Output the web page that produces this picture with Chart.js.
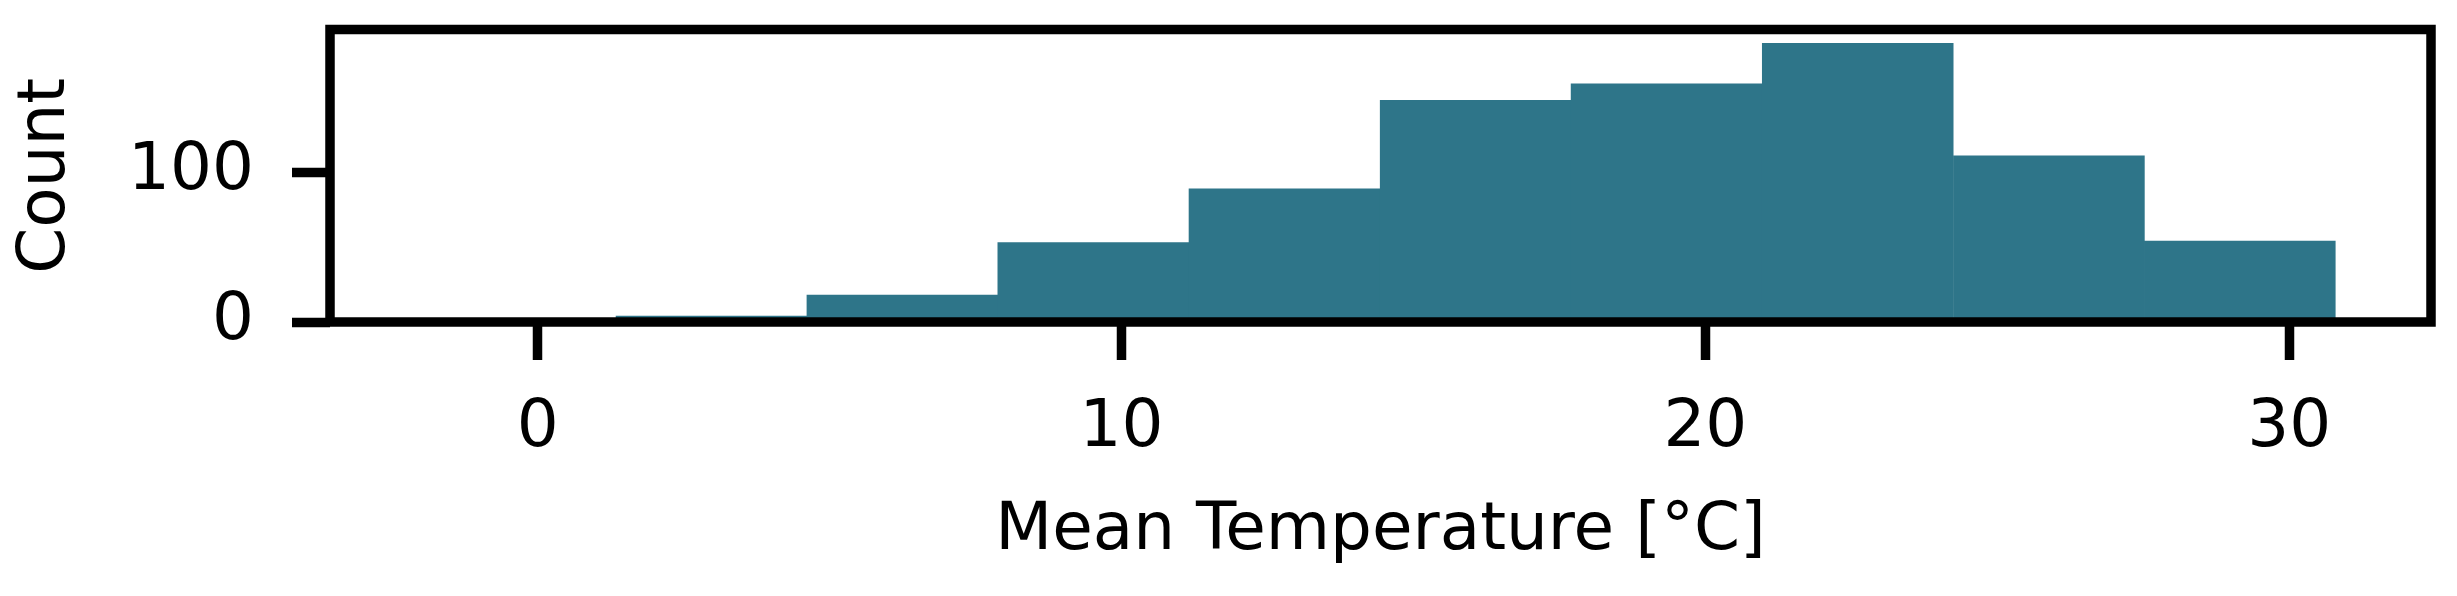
<!DOCTYPE html>
<html>
<head>
<meta charset="utf-8">
<script src="https://cdn.jsdelivr.net/npm/chart.js@4"></script>
<style>
  html, body { margin: 0; padding: 0; background: #ffffff; }
  #wrap { width: 2457px; height: 596px; }
</style>
</head>
<body>
<div id="wrap"><canvas id="c" width="2457" height="596"></canvas></div>
<script>
// ---- data ----
const binEdges = [-1.93, 1.34, 4.61, 7.88, 11.15, 14.43, 17.70, 20.97, 24.25, 27.52, 30.79];
const counts   = [1, 4, 18, 53, 89, 148, 159, 186, 111, 54];
const xTicks   = [0, 10, 20, 30];
const yTicks   = [0, 100];
const xRange   = [-3.56, 32.43];
const yRange   = [0, 195.3];
const xTitle   = 'Mean Temperature [°C]';
const yTitle   = 'Count';

// histogram bars, centred on each bin
const barData = counts.map((c, i) => ({ x: (binEdges[i] + binEdges[i + 1]) / 2, y: c }));

const FONT = 'DejaVu Sans';
const FS = 66;
const LW = 9.5;

const framePlugin = {
  id: 'frame',
  afterDatasetsDraw(chart) {
    const a = chart.chartArea, ctx = chart.ctx;
    ctx.save();
    ctx.strokeStyle = '#000';
    ctx.lineWidth = LW;
    ctx.lineJoin = 'miter';
    ctx.strokeRect(a.left, a.top, a.right - a.left, a.bottom - a.top);
    ctx.restore();
  }
};

function noPad(s) {
  s.paddingTop = 0; s.paddingBottom = 0; s.paddingLeft = 0; s.paddingRight = 0;
}

new Chart(document.getElementById('c'), {
  type: 'bar',
  data: {
    datasets: [{
      data: barData,
      backgroundColor: '#2e7589',
      borderWidth: 0,
      barPercentage: 1,
      categoryPercentage: 1
    }]
  },
  options: {
    responsive: false,
    animation: false,
    devicePixelRatio: 1,
    layout: { padding: { top: 29.5, right: 26, bottom: 0, left: 0 } },
    plugins: { legend: { display: false }, tooltip: { enabled: false } },
    scales: {
      x: {
        type: 'linear',
        offset: false,
        min: xRange[0],
        max: xRange[1],
        afterBuildTicks: s => { s.ticks = xTicks.map(v => ({ value: v })); },
        afterFit: s => { s.height = 274; noPad(s); },
        grid: { offset: false, drawOnChartArea: false, drawTicks: true, tickLength: 38, tickWidth: LW, tickColor: '#000' },
        border: { display: false },
        ticks: { color: '#000', font: { family: FONT, size: FS, lineHeight: 1 }, padding: 36, maxRotation: 0, autoSkip: false },
        title: { display: true, text: xTitle, color: '#000', font: { family: FONT, size: FS, lineHeight: 1 }, padding: { top: 0, bottom: 31 } }
      },
      y: {
        type: 'linear',
        min: yRange[0],
        max: yRange[1],
        afterBuildTicks: s => { s.ticks = yTicks.map(v => ({ value: v })); },
        afterFit: s => { s.width = 330; noPad(s); },
        grid: { drawOnChartArea: false, drawTicks: true, tickLength: 38, tickWidth: LW, tickColor: '#000' },
        border: { display: false },
        ticks: { color: '#000', font: { family: FONT, size: FS, lineHeight: 1 }, padding: 38 },
        title: { display: true, text: yTitle, color: '#000', font: { family: FONT, size: FS, lineHeight: 1 }, padding: { top: 14, bottom: 0 } }
      }
    }
  },
  plugins: [framePlugin]
});
</script>
</body>
</html>
